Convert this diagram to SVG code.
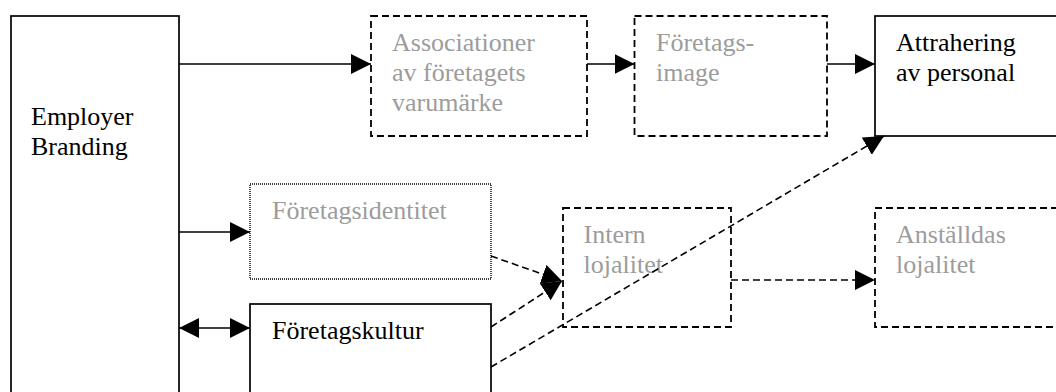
<svg xmlns="http://www.w3.org/2000/svg" width="1056" height="392" viewBox="0 0 1056 392">
<style>
.box{fill:#fff;stroke:#000;stroke-width:1.7}
.dash{stroke-dasharray:7 4;stroke-width:1.8}
.dot{stroke-dasharray:1 1;stroke-width:1.4}
.t{font-family:"Liberation Serif","Times New Roman",serif;font-size:26px;fill:#000}
.g{fill:#9c9c9c}
.c{fill:none;stroke:#000;stroke-width:1.4}
.cd{stroke-dasharray:7 4;stroke-width:1.6}
</style>
<defs>
<marker id="ah" markerUnits="userSpaceOnUse" markerWidth="20" markerHeight="20" refX="20" refY="10" orient="auto-start-reverse" viewBox="0 0 20 20">
<path d="M0,0 L20,10 L0,20 z" fill="#000"/>
</marker>
</defs>
<rect width="1056" height="392" fill="#fff"/>
<g id="employer-branding">
<rect class="box" x="11" y="16" width="168" height="390"/>
<text class="t" x="31" y="125">Employer</text>
<text class="t" x="31" y="155">Branding</text>
</g>
<g id="associationer">
<rect class="box dash" x="371" y="16" width="216" height="120"/>
<text class="t g" x="392" y="50.5">Associationer</text>
<text class="t g" x="392" y="80.5">av företagets</text>
<text class="t g" x="392" y="110.5">varumärke</text>
</g>
<g id="foretagsimage">
<rect class="box dash" x="634.5" y="16" width="192.5" height="120"/>
<text class="t g" x="656" y="50.5">Företags-</text>
<text class="t g" x="656" y="80.5">image</text>
</g>
<g id="attrahering">
<rect class="box" x="875" y="16" width="200" height="120"/>
<text class="t" x="896" y="51">Attrahering</text>
<text class="t" x="896" y="81">av personal</text>
</g>
<g id="foretagsidentitet">
<rect class="box dot" x="250" y="184" width="241" height="95"/>
<text class="t g" x="272" y="218.5">Företagsidentitet</text>
</g>
<g id="foretagskultur">
<rect class="box" x="250" y="304" width="241" height="100"/>
<text class="t" x="272" y="338.5">Företagskultur</text>
</g>
<g id="intern-lojalitet">
<rect class="box dash" x="563" y="208" width="168" height="119"/>
<text class="t g" x="583.5" y="243">Intern</text>
<text class="t g" x="583.5" y="273">lojalitet</text>
</g>
<g id="anstalldas-lojalitet">
<rect class="box dash" x="875" y="208" width="200" height="119"/>
<text class="t g" x="896" y="243">Anställdas</text>
<text class="t g" x="896" y="273">lojalitet</text>
</g>
<g id="connectors">
<line class="c" x1="179" y1="64" x2="371" y2="64" marker-end="url(#ah)"/>
<line class="c" x1="587" y1="64" x2="634.5" y2="64" marker-end="url(#ah)"/>
<line class="c" x1="827" y1="64" x2="875" y2="64" marker-end="url(#ah)"/>
<line class="c" x1="179" y1="232" x2="250" y2="232" marker-end="url(#ah)"/>
<line class="c" x1="179" y1="328" x2="250" y2="328" marker-start="url(#ah)" marker-end="url(#ah)"/>
<line class="c cd" x1="491" y1="256" x2="562" y2="281" marker-end="url(#ah)"/>
<line class="c cd" x1="491" y1="327" x2="562" y2="281" marker-end="url(#ah)"/>
<line class="c cd" x1="731" y1="280" x2="875" y2="280" marker-end="url(#ah)"/>
<line class="c cd" x1="491" y1="367" x2="884" y2="136" marker-end="url(#ah)"/>
</g>
</svg>
